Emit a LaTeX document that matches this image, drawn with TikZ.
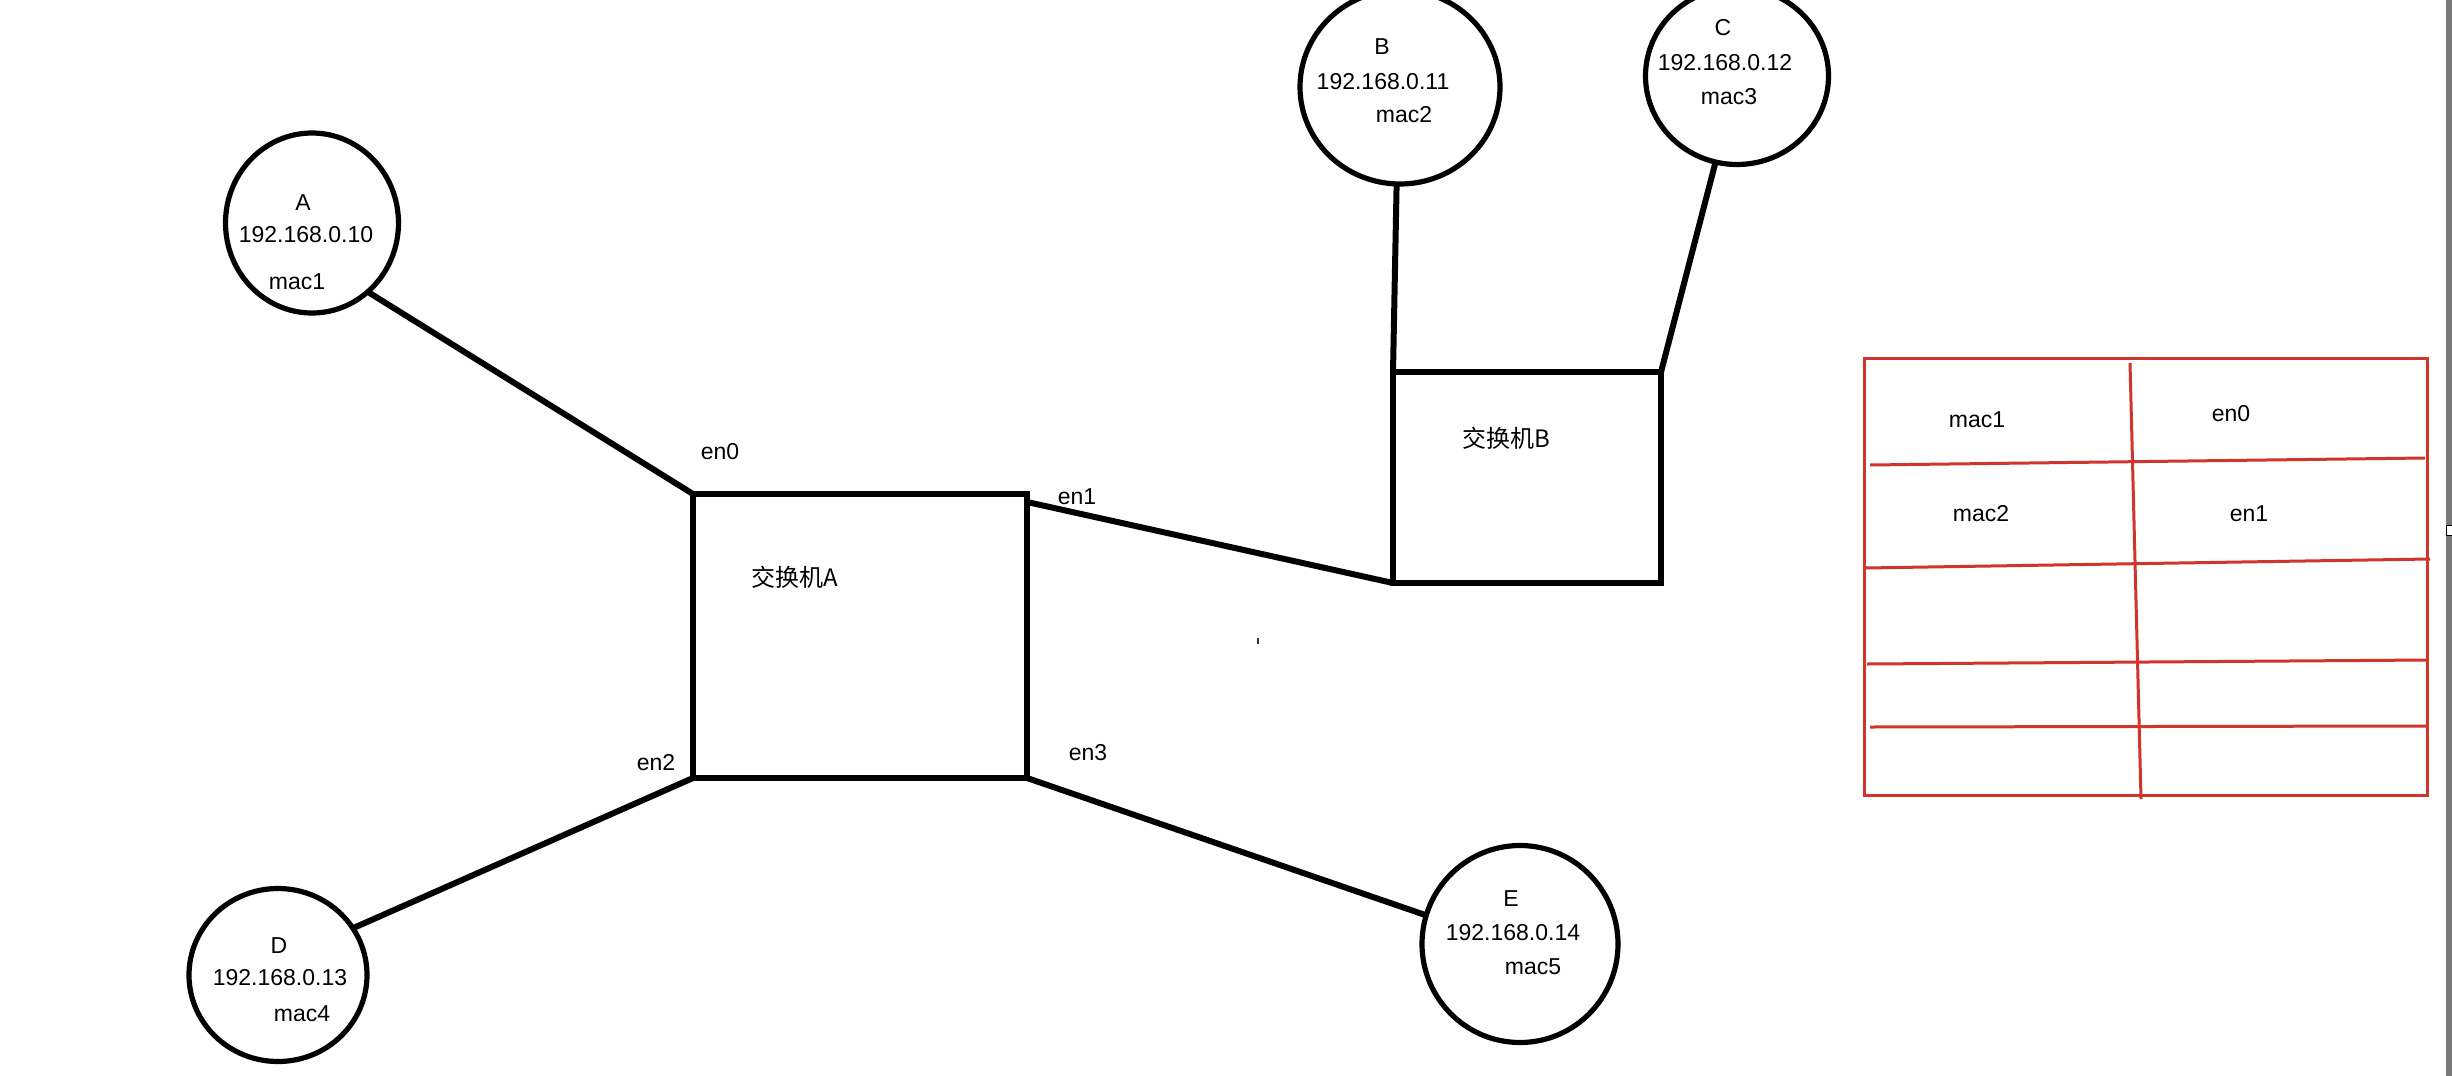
\documentclass[tikz,border=0pt]{standalone}
\usepackage{fontspec}
\setmainfont{Liberation Sans}
\newfontfamily\cjk{Noto Sans CJK SC}
\usetikzlibrary{shapes.geometric,calc}
\definecolor{tred}{RGB}{208,52,44}
\definecolor{stripgray}{RGB}{120,120,120}
\begin{document}
\begin{tikzpicture}[x=0.5pt,y=-0.5pt,
  host/.style={draw, ellipse, line width=2.6pt, inner sep=0pt, outer sep=0pt},
  switchbox/.style={draw, rectangle, line width=3pt, inner sep=0pt, outer sep=0pt},
  link/.style={line width=3pt},
  lbl/.style={font=\fontsize{11.5}{13}\selectfont, inner sep=0pt},
  cjklbl/.style={font=\cjk\fontsize{12}{14}\selectfont, inner sep=0pt},
  tline/.style={draw=tred, line width=1.5pt},
  tbox/.style={draw=tred, rectangle, line width=1.5pt, inner sep=0pt, outer sep=0pt},
]
\fill[white] (0,0) rectangle (2452,1076);
\useasboundingbox (0,0) rectangle (2452,1076);

% hosts
\node[host, minimum width=86.5pt, minimum height=90pt] (cA) at (312,223) {};
\node[host, minimum width=100pt, minimum height=97pt] (cB) at (1400,87) {};
\node[host, minimum width=91.5pt, minimum height=88.5pt] (cC) at (1737,76) {};
\node[host, minimum width=89pt, minimum height=86.5pt] (cD) at (278,975) {};
\node[host, minimum width=98pt, minimum height=98.5pt] (cE) at (1520,944) {};

% host texts
\node[lbl] (tAn) at (303,203) {A};
\node[lbl] (tAi) at (306,235) {192.168.0.10};
\node[lbl] (tAm) at (297,282) {mac1};
\node[lbl] (tBn) at (1382,47) {B};
\node[lbl] (tBi) at (1383,82) {192.168.0.11};
\node[lbl] (tBm) at (1404,115) {mac2};
\node[lbl] (tCn) at (1723,28) {C};
\node[lbl] (tCi) at (1725,63) {192.168.0.12};
\node[lbl] (tCm) at (1729,97) {mac3};
\node[lbl] (tDn) at (279,946) {D};
\node[lbl] (tDi) at (280,978) {192.168.0.13};
\node[lbl] (tDm) at (302,1014) {mac4};
\node[lbl] (tEn) at (1511,899) {E};
\node[lbl] (tEi) at (1513,933) {192.168.0.14};
\node[lbl] (tEm) at (1533,967) {mac5};

% switches
\node[switchbox, minimum width=167pt, minimum height=142pt] (swA) at (860,636) {};
\node[switchbox, minimum width=134pt, minimum height=105.5pt] (swB) at (1527,477.5) {};
\node[cjklbl] (swAl) at (795,577) {交换机A};
\node[cjklbl] (swBl) at (1506,438) {交换机B};

% port labels
\node[lbl] (en0) at (720,452) {en0};
\node[lbl] (en1) at (1077,497) {en1};
\node[lbl] (en2) at (656,763) {en2};
\node[lbl] (en3) at (1088,753) {en3};

% links
\draw[link] (cA.-51) -- (swA.north west);
\draw[link] ($(swA.north east)+(0,8)$) -- (swB.south west);
\draw[link] (swA.south west) -- (cD.32);
\draw[link] (swA.south east) -- (cE.163);
\draw[link] (cB.-92) -- (swB.north west);
\draw[link] (cC.-104) -- (swB.north east);

% stray mark
\draw[line width=0.6pt, black!80] (1258,638) -- (1258,644);

% table
\node[tbox, minimum width=281.5pt, minimum height=218.5pt] (tbl) at (2145.5,576.5) {};
\draw[tline] (1870,465) -- (2425,458);
\draw[tline] (1865,568) -- (2430,559);
\draw[tline] (1867,664) -- (2429,660);
\draw[tline] (1870,727) -- (2428,726);
\draw[tline] (2130,363) -- (2141,799);
\node[lbl] (r1a) at (1977,420) {mac1};
\node[lbl] (r1b) at (2231,414) {en0};
\node[lbl] (r2a) at (1981,514) {mac2};
\node[lbl] (r2b) at (2249,514) {en1};

% right edge strip
\fill[stripgray] (2446,0) rectangle (2452,1076);
\draw[fill=white, line width=0.5pt] (2446.5,525) rectangle (2452,535);
\end{tikzpicture}
\end{document}
